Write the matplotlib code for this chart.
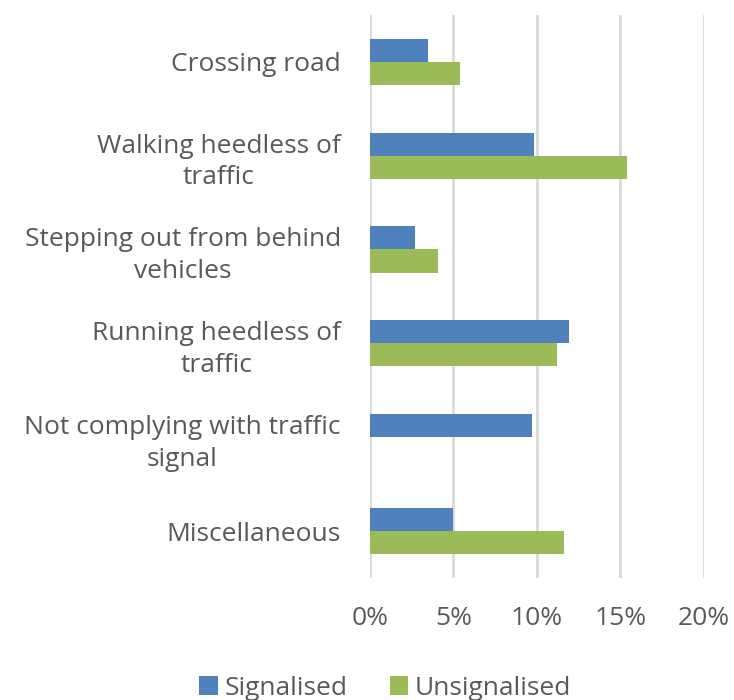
import numpy as np
import matplotlib.pyplot as plt
from matplotlib.ticker import FuncFormatter

plt.rcParams['font.family'] = ['Open Sans', 'DejaVu Sans']

categories = ['Crossing road', 'Walking heedless of\ntraffic',
              'Stepping out from behind\nvehicles', 'Running heedless of\ntraffic',
              'Not complying with traffic\nsignal', 'Miscellaneous']
signalised = [3.5, 9.8, 2.7, 11.9, 9.7, 5.0]
unsignalised = [5.4, 15.4, 4.1, 11.2, 0.0, 11.6]
xticks = [0, 5, 10, 15, 20]

text_col = '#595959'
fig = plt.figure(figsize=(7.34, 7.0), dpi=100)
ax = fig.add_axes([0.504, 0.174, 0.455, 0.805])

y = np.arange(len(categories))
h = 0.245
ax.barh(y - h / 2, signalised, height=h, color='#4F81BD', label='Signalised', zorder=3)
ax.barh(y + h / 2, unsignalised, height=h, color='#9BBB59', label='Unsignalised', zorder=3)

ax.set_ylim(len(categories) - 0.5, -0.5)
ax.set_xlim(0, 20)
ax.set_xticks(xticks)
ax.xaxis.set_major_formatter(FuncFormatter(lambda v, p: '%d%%' % v))
ax.set_yticks(y)
ax.set_yticklabels(categories, multialignment='center', linespacing=1.35)
ax.grid(axis='x', color='#D9D9D9', linewidth=2, zorder=0)
for s in ax.spines.values():
    s.set_visible(False)
ax.tick_params(axis='both', length=0, labelsize=19, labelcolor=text_col)
ax.tick_params(axis='x', pad=20)
ax.tick_params(axis='y', pad=21)

fig.legend(loc='lower center', bbox_to_anchor=(0.525, -0.035), ncol=2, frameon=False,
           fontsize=19, labelcolor=text_col, handlelength=0.7, handleheight=0.7,
           handletextpad=0.25, columnspacing=1.6)

fig.savefig('out.png', dpi=100)
